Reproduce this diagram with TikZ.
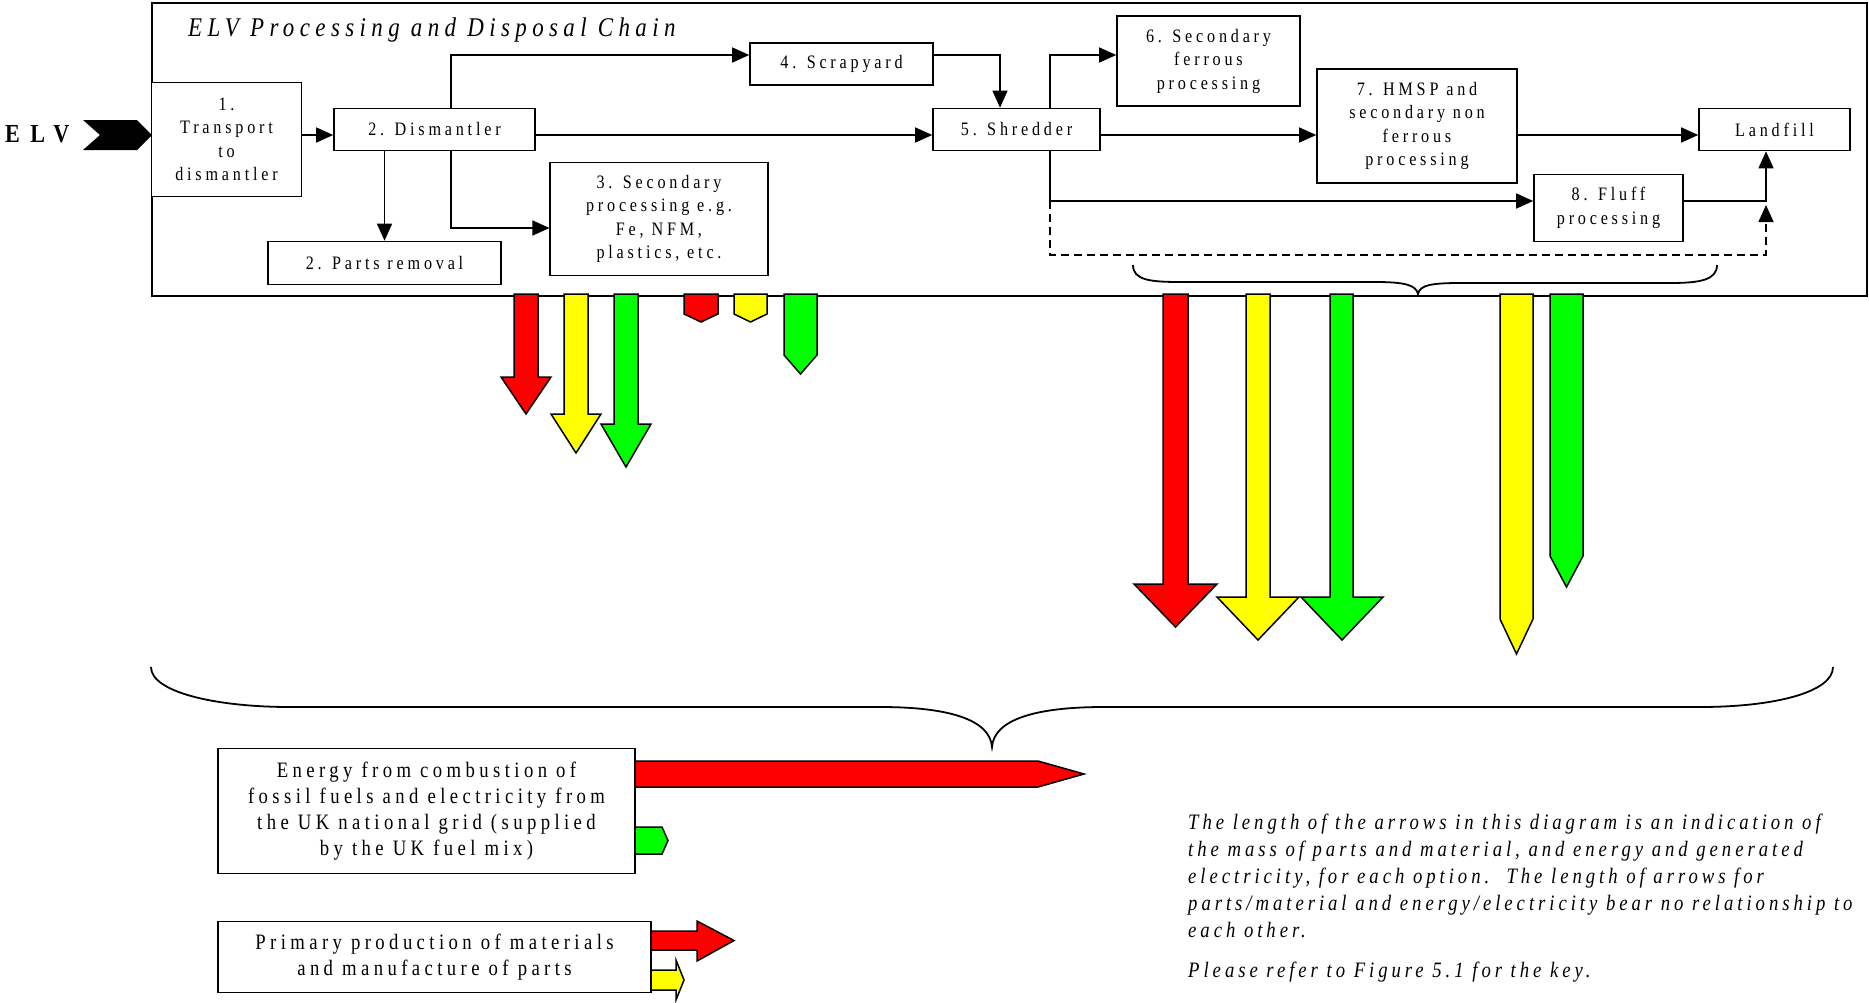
\documentclass[tikz,border=0pt]{standalone}
\usepackage{fontspec}
\setmainfont{Liberation Serif}[FakeStretch=0.85,LetterSpace=20]
\newfontfamily\notefont{Liberation Serif}[FakeStretch=0.85,LetterSpace=18]
\newfontfamily\elvfont{Liberation Serif}[FakeStretch=0.85,LetterSpace=40]
\usetikzlibrary{arrows.meta,calc}
\definecolor{arRed}{RGB}{255,0,0}
\definecolor{arYel}{RGB}{255,255,0}
\definecolor{arGrn}{RGB}{0,255,0}
\begin{document}
\begin{tikzpicture}[x=1pt,y=-1pt,
  box/.style={draw,line width=1.6pt,fill=white,align=center,inner sep=0pt,
    font=\fontsize{19}{23.5}\selectfont},
  bigbox/.style={draw,line width=1.6pt,fill=white,align=center,inner sep=0pt,
    font=\fontsize{22}{26}\selectfont},
  conn/.style={line width=1.5pt,-{Triangle[length=17pt,width=15pt]}},
  blk/.style={draw=black,line width=1.5pt,line join=miter},
  brace/.style={line width=1.8pt}]
\useasboundingbox (0,0) rectangle (1869,1002);

% outer chain frame
\node[draw,line width=2pt,minimum width=1715pt,minimum height=293pt,inner sep=0pt,anchor=north west] (chain) at (151,2) {};
\node[anchor=base west,inner sep=0pt,font=\fontsize{27}{31}\selectfont\itshape] (title) at (188,36) {ELV Processing and Disposal Chain};

% ELV input
\node[anchor=base west,inner sep=0pt,font=\fontsize{26}{30}\elvfont\bfseries] (elv) at (5,142) {ELV};
\fill (83,120) -- (137,120) -- (152,135) -- (137,150) -- (83,150) -- (100,135) -- cycle;

% process boxes
\node[box,minimum width=150pt,minimum height=114pt] (b1) at (226.5,139.5) {1.\\Transport\\to\\dismantler};
\node[box,minimum width=201pt,minimum height=42pt] (b2) at (434.5,129.5) {2. Dismantler};
\node[box,minimum width=233pt,minimum height=43pt] (pr) at (384.5,263) {2. Parts removal};
\node[box,minimum width=217.5pt,minimum height=113pt] (b3) at (659,219) {3. Secondary\\processing e.g.\\Fe, NFM,\\plastics, etc.};
\node[box,minimum width=183pt,minimum height=42pt] (b4) at (841.5,64) {4. Scrapyard};
\node[box,minimum width=167pt,minimum height=42pt] (b5) at (1016.5,129.5) {5. Shredder};
\node[box,minimum width=183pt,minimum height=90pt] (b6) at (1208.5,61) {6. Secondary\\ferrous\\processing};
\node[box,minimum width=200pt,minimum height=114pt] (b7) at (1417,126) {7. HMSP and\\secondary non\\ferrous\\processing};
\node[box,minimum width=151pt,minimum height=42pt] (lf) at (1774.5,129.5) {Landfill};
\node[box,minimum width=149pt,minimum height=67pt] (b8) at (1608.5,208) {8. Fluff\\processing};

% helper coordinates
\coordinate (yA) at (0,135);
\coordinate (yB) at (0,55);
\coordinate (yC) at (0,228);
\coordinate (yD) at (0,201);
\coordinate (xA) at (451,0);
\coordinate (xB) at (1000,0);
\coordinate (xC) at (1050,0);
\coordinate (xD) at (1766,0);
\coordinate (dEnd) at (1766,205);

% connectors
\draw[conn] (b1.east |- yA) -- (b2.west |- yA);
\draw[conn] (b2.east |- yA) -- (b5.west |- yA);
\draw[conn] (b5.east |- yA) -- (b7.west |- yA);
\draw[conn] (b7.east |- yA) -- (lf.west |- yA);
\draw[conn] (b2.north -| xA) |- (b4.west |- yB);
\draw[conn] (b2.south -| pr.north) -- (pr.north);
\draw[conn] (b2.south -| xA) |- (b3.west |- yC);
\draw[conn] (b4.east |- yB) -| (b5.north -| xB);
\draw[conn] (b5.north -| xC) |- (b6.west |- yB);
\draw[conn] (b5.south -| xC) |- (b8.west |- yD);
\draw[conn] (b8.east |- yD) -| (lf.south -| xD);
\draw[conn,dash pattern=on 8pt off 5pt] (xC |- yD) -- ++(0,54) -| (dEnd);

% small brace inside frame
\draw[brace] (1133,265) .. controls (1133,280) and (1150,282) .. (1180,282) -- (1375,282)
  .. controls (1405,282) and (1416,285) .. (1418,294)
  .. controls (1420,285) and (1431,283) .. (1461,283) -- (1670,283)
  .. controls (1700,283) and (1717,280) .. (1717,265);

% coloured outflow arrows (dismantler group)
\draw[blk,fill=arRed] (514,294) -- (514,377) -- (501,377) -- (526,414) -- (551,377) -- (538,377) -- (538,294) -- cycle;
\draw[blk,fill=arYel] (564,294) -- (564,414) -- (551,414) -- (576,453) -- (601,414) -- (588,414) -- (588,294) -- cycle;
\draw[blk,fill=arGrn] (614,294) -- (614,424) -- (601,424) -- (626,467) -- (651,424) -- (638,424) -- (638,294) -- cycle;
\draw[blk,fill=arRed] (684,294) -- (684,314) -- (701,322) -- (718,314) -- (718,294) -- cycle;
\draw[blk,fill=arYel] (734,294) -- (734,314) -- (750.5,322) -- (767,314) -- (767,294) -- cycle;
\draw[blk,fill=arGrn] (784,294) -- (784,355) -- (800.5,374) -- (817,355) -- (817,294) -- cycle;

% coloured outflow arrows (shredder group)
\draw[blk,fill=arRed] (1163,294) -- (1163,584) -- (1134,584) -- (1175.5,627) -- (1217,584) -- (1188,584) -- (1188,294) -- cycle;
\draw[blk,fill=arYel] (1246,294) -- (1246,597) -- (1217,597) -- (1258,640) -- (1299,597) -- (1270,597) -- (1270,294) -- cycle;
\draw[blk,fill=arGrn] (1330,294) -- (1330,597) -- (1301,597) -- (1342,640) -- (1383,597) -- (1353,597) -- (1353,294) -- cycle;
\draw[blk,fill=arYel] (1500,294) -- (1500,619) -- (1516.5,654) -- (1533,619) -- (1533,294) -- cycle;
\draw[blk,fill=arGrn] (1550,294) -- (1550,556) -- (1566.5,587) -- (1583,556) -- (1583,294) -- cycle;

% big brace
\draw[brace] (151,667) .. controls (151,692) and (215,707) .. (290,707) -- (880,707)
  .. controls (950,707) and (990,720) .. (992,747)
  .. controls (994,720) and (1034,707) .. (1104,707) -- (1700,707)
  .. controls (1775,707) and (1833,692) .. (1833,667);

% bottom input boxes
\node[bigbox,minimum width=417pt,minimum height=125pt] (en) at (426.5,811) {Energy from combustion of\\fossil fuels and electricity from\\the UK national grid (supplied\\by the UK fuel mix)};
\node[bigbox,minimum width=433pt,minimum height=71pt] (pp) at (434.5,957) {Primary production of materials\\and manufacture of parts};

\draw[blk,fill=arRed] (635,761) -- (1038,761) -- (1084,774) -- (1038,787) -- (635,787) -- cycle;
\draw[blk,fill=arGrn] (635,827) -- (662,827) -- (668,840.5) -- (662,854) -- (635,854) -- cycle;
\draw[blk,fill=arRed] (651,931) -- (697,931) -- (697,921) -- (734,940.5) -- (697,961) -- (697,950) -- (651,950) -- cycle;
\draw[blk,fill=arYel] (651,970) -- (676,970) -- (676,960) -- (684,980) -- (676,1000) -- (676,990) -- (651,990) -- cycle;

% note
\node[anchor=north west,inner sep=0pt,align=left,font=\fontsize{22}{27}\notefont\itshape] (note) at (1188,814)
{The length of the arrows in this diagram is an indication of\\
the mass of parts and material, and energy and generated\\
electricity, for each option.\ \ The length of arrows for\\
parts/material and energy/electricity bear no relationship to\\
each other.\\[13pt]
Please refer to Figure 5.1 for the key.};
\end{tikzpicture}
\end{document}
